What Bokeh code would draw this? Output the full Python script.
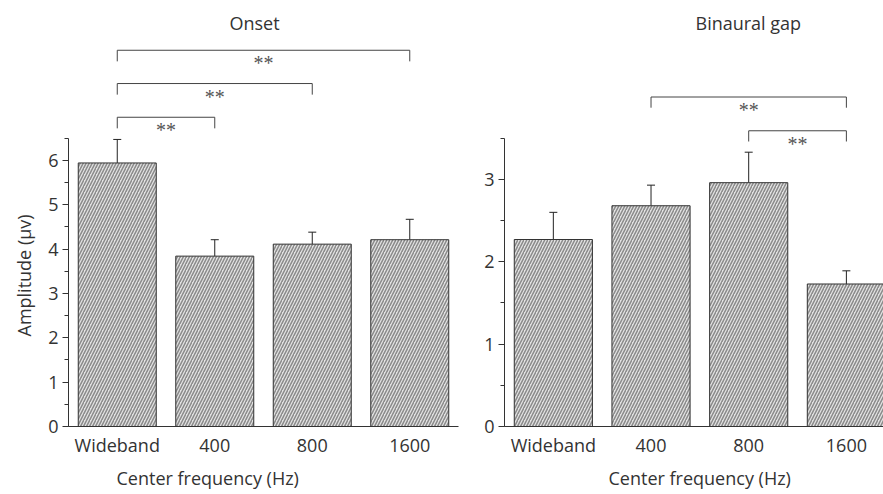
from bokeh.plotting import figure
from bokeh.models import (Range1d, ColumnDataSource, Whisker, TeeHead, Title,
                          FixedTicker, SingleIntervalTicker)
from bokeh.layouts import row
from bokeh.embed import file_html
from bokeh.resources import INLINE
from bokeh.core.properties import value

categories = ["Wideband", "400", "800", "1600"]

onset_mean = [5.94, 3.84, 4.11, 4.21]
onset_err = [0.53, 0.37, 0.27, 0.46]
onset_brackets = [(0, 3, 8.48), (0, 2, 7.73), (0, 1, 6.97)]

gap_mean = [2.27, 2.68, 2.96, 1.73]
gap_err = [0.33, 0.25, 0.37, 0.16]
gap_brackets = [(1, 3, 4.00), (2, 3, 3.59)]

FONT = "Open Sans"
TXT = "#333333"


def mk_title(text, offset, standoff=0):
    return Title(text=text, align="left", offset=offset, standoff=standoff,
                 text_font=FONT, text_font_size="18px", text_color=TXT,
                 text_font_style="normal")


def panel(means, errs, brackets, ymax_axis, yrange_end, xrange_end, width,
          border_left, border_right, drop, title, title_off, xlab_off, ylab=None):
    p = figure(width=width, height=494, output_backend="svg", toolbar_location=None,
               x_range=Range1d(-0.5, xrange_end), y_range=Range1d(0, yrange_end),
               min_border_left=border_left, min_border_right=border_right,
               min_border_top=40, min_border_bottom=68)
    p.outline_line_color = None
    p.grid.visible = False
    p.background_fill_color = "white"

    xs = list(range(len(categories)))
    hi = [m + e for m, e in zip(means, errs)]
    src = ColumnDataSource(dict(x=xs, top=means, hi=hi))
    p.vbar(x="x", top="top", width=0.8, source=src, fill_color="#e2e2e2",
           hatch_pattern="/", hatch_color="#8a8a8a", hatch_scale=6, hatch_weight=1.5,
           line_color="#333333", line_width=1)
    w = Whisker(source=src, base="x", lower="top", upper="hi", line_color="#222222",
                line_width=1, lower_head=None,
                upper_head=TeeHead(size=8, line_color="#222222", line_width=1))
    p.add_layout(w)

    # significance brackets
    x0s, x1s, y0s, y1s = [], [], [], []
    tx, ty = [], []
    for a, b, lvl in brackets:
        x0s += [a, a, b]
        x1s += [b, a, b]
        y0s += [lvl, lvl, lvl]
        y1s += [lvl, lvl - drop, lvl - drop]
        tx.append((a + b) / 2)
        ty.append(lvl)
    p.segment(x0=x0s, y0=y0s, x1=x1s, y1=y1s, line_color="#444444", line_width=1)
    p.text(x=tx, y=ty, text=["**"] * len(tx), text_font=value("Liberation Serif"),
           text_font_size="20px", text_color="#555555", text_align="center",
           text_baseline="top", y_offset=2)

    # axes
    xa = p.xaxis[0]
    xa.ticker = FixedTicker(ticks=xs)
    xa.major_label_overrides = {i: c for i, c in enumerate(categories)}
    xa.major_tick_out = 0
    xa.major_tick_in = 0
    xa.minor_tick_out = 0
    xa.minor_tick_in = 0
    xa.major_label_standoff = 6
    xa.major_label_text_font = FONT
    xa.major_label_text_font_size = "18px"
    xa.major_label_text_color = TXT
    xa.axis_line_color = "#333333"

    ya = p.yaxis[0]
    ya.ticker = SingleIntervalTicker(interval=1, num_minor_ticks=2)
    ya.bounds = (0, ymax_axis)
    ya.major_tick_out = 6
    ya.major_tick_in = 0
    ya.minor_tick_out = 4
    ya.minor_tick_in = 0
    ya.major_label_standoff = 4
    ya.major_label_text_font = FONT
    ya.major_label_text_font_size = "18px"
    ya.major_label_text_color = TXT
    ya.axis_line_color = "#333333"
    ya.major_tick_line_color = "#333333"
    ya.minor_tick_line_color = "#333333"

    p.add_layout(mk_title(title, title_off, standoff=11), "above")
    p.add_layout(mk_title("Center frequency (Hz)", xlab_off, standoff=9), "below")
    if ylab:
        p.add_layout(mk_title(ylab, 90, standoff=19), "left")
    return p


p1 = panel(onset_mean, onset_err, onset_brackets, 6.5, 8.70, 3.5, 470, 67, 12, 0.25,
           "Onset", 161, 48, ylab="Amplitude (\u03bcv)")
p2 = panel(gap_mean, gap_err, gap_brackets, 3.5, 4.686, 3.38, 413, 34, 0, 0.13,
           "Binaural gap", 191, 104)

layout = row(p1, p2)
open("out.html", "w").write(file_html(layout, INLINE))
